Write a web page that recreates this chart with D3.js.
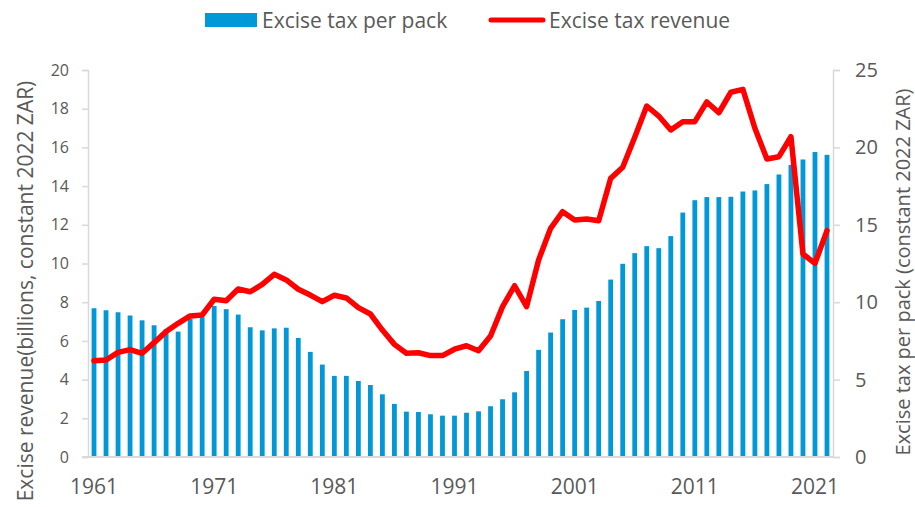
<!DOCTYPE html>
<html>
<head>
<meta charset="utf-8">
<script src="https://cdn.jsdelivr.net/npm/d3@7"></script>
<style>
  body { margin: 0; background: #fff; }
  svg { display: block; font-family: "Open Sans", sans-serif; }
  .tick text { fill: #595959; }
</style>
</head>
<body>
<div id="chart"></div>
<script>
// Years on the x axis
var years = d3.range(1961, 2023);

// Excise tax per pack (constant 2022 ZAR), right axis
var perPack = [
    9.61, 9.48, 9.35, 9.14, 8.83, 8.51, 8.25, 8.10, 8.94, 9.03,
    9.76, 9.55, 9.20, 8.38, 8.18, 8.31, 8.35, 7.69, 6.79, 5.97,
    5.24, 5.24, 4.91, 4.65, 4.05, 3.43, 2.93, 2.91, 2.76, 2.67,
    2.67, 2.86, 2.95, 3.28, 3.73, 4.18, 5.56, 6.92, 8.04, 8.90,
    9.50, 9.65, 10.08, 11.46, 12.48, 13.17, 13.62, 13.49, 14.27, 15.79,
    16.59, 16.79, 16.79, 16.81, 17.15, 17.22, 17.63, 18.25, 18.87, 19.22,
    19.70, 19.52
];

// Excise tax revenue (billions, constant 2022 ZAR), left axis
var revenue = [
    4.98, 5.01, 5.41, 5.55, 5.36, 5.91, 6.48, 6.91, 7.29, 7.34,
    8.15, 8.08, 8.68, 8.54, 8.92, 9.44, 9.15, 8.67, 8.37, 8.03,
    8.36, 8.22, 7.72, 7.39, 6.56, 5.82, 5.36, 5.39, 5.24, 5.24,
    5.57, 5.75, 5.49, 6.25, 7.77, 8.85, 7.77, 10.18, 11.82, 12.68,
    12.25, 12.30, 12.21, 14.40, 14.97, 16.52, 18.14, 17.62, 16.90, 17.33,
    17.33, 18.35, 17.79, 18.85, 19.00, 16.99, 15.40, 15.52, 16.55, 10.49,
    10.01, 11.70
];

var leftTicks = [0, 2, 4, 6, 8, 10, 12, 14, 16, 18, 20];
var rightTicks = [0, 5, 10, 15, 20, 25];
var xLabels = [1961, 1971, 1981, 1991, 2001, 2011, 2021];

var svgWidth = 915;
var svgHeight = 507;

var margin = { top: 70, bottom: 50, left: 88, right: 82 };
var chartWidth = svgWidth - margin.left - margin.right;
var chartHeight = svgHeight - margin.top - margin.bottom;

var svg = d3.select('#chart')
    .append('svg')
    .attr('width', svgWidth)
    .attr('height', svgHeight);

var chartGroup = svg.append('g')
    .attr('transform', `translate(${margin.left}, ${margin.top})`);

// Scales
var xScale = d3.scaleBand()
    .domain(years)
    .range([0, chartWidth])
    .paddingInner(0.6)
    .paddingOuter(0.3);

var yLeft = d3.scaleLinear()
    .domain([0, 20])
    .range([chartHeight, 0]);

var yRight = d3.scaleLinear()
    .domain([0, 25])
    .range([chartHeight, 0]);

// Bars
chartGroup.selectAll('rect.bar')
    .data(perPack)
    .enter()
    .append('rect')
    .attr('class', 'bar')
    .attr('x', (d, i) => xScale(years[i]))
    .attr('y', d => yRight(d))
    .attr('width', xScale.bandwidth())
    .attr('height', d => chartHeight - yRight(d))
    .attr('fill', '#0098d6');

// Axes
var leftAxis = d3.axisLeft(yLeft)
    .tickValues(leftTicks)
    .tickSize(6)
    .tickPadding(13);

var rightAxis = d3.axisRight(yRight)
    .tickValues(rightTicks)
    .tickSize(7)
    .tickPadding(15);

var bottomAxis = d3.axisBottom(xScale)
    .tickValues(xLabels)
    .tickSize(0)
    .tickPadding(22);

var gLeft = chartGroup.append('g').call(leftAxis);
gLeft.selectAll('text').style('font-size', '16px');

var gRight = chartGroup.append('g')
    .attr('transform', `translate(${chartWidth}, 0)`)
    .call(rightAxis);
gRight.selectAll('text').style('font-size', '20px');

var gBottom = chartGroup.append('g')
    .attr('transform', `translate(0, ${chartHeight})`)
    .call(bottomAxis);
gBottom.selectAll('text').style('font-size', '21px');
gBottom.select('.domain').remove();

[gLeft, gRight, gBottom].forEach(function (g) {
    g.attr('font-family', '"Open Sans", sans-serif');
    g.select('.domain').attr('stroke', '#d9d9d9').attr('stroke-width', 1.5);
    g.selectAll('.tick line').attr('stroke', '#d9d9d9').attr('stroke-width', 1.5);
});

// Baseline
chartGroup.append('line')
    .attr('x1', -6)
    .attr('x2', chartWidth)
    .attr('y1', chartHeight)
    .attr('y2', chartHeight)
    .attr('stroke', '#d9d9d9')
    .attr('stroke-width', 2);

// Revenue line
var line = d3.line()
    .x((d, i) => xScale(years[i]) + xScale.bandwidth() / 2)
    .y(d => yLeft(d));

chartGroup.append('path')
    .datum(revenue)
    .attr('d', line)
    .attr('fill', 'none')
    .attr('stroke', '#ff0000')
    .attr('stroke-width', 5.5)
    .attr('stroke-linejoin', 'round')
    .attr('stroke-linecap', 'round');

// Axis titles
svg.append('text')
    .attr('transform', 'translate(33, 291) rotate(-90)')
    .attr('text-anchor', 'middle')
    .attr('fill', '#595959')
    .style('font-size', '21px')
    .text('Excise revenue(billions, constant 2022 ZAR)');

svg.append('text')
    .attr('transform', 'translate(910, 272) rotate(-90)')
    .attr('text-anchor', 'middle')
    .attr('fill', '#595959')
    .style('font-size', '20px')
    .text('Excise tax per pack (constant 2022 ZAR)');

// Legend
var legend = svg.append('g');

legend.append('rect')
    .attr('x', 205)
    .attr('y', 13)
    .attr('width', 52)
    .attr('height', 14)
    .attr('fill', '#0098d6');

legend.append('text')
    .attr('x', 262)
    .attr('y', 28)
    .attr('fill', '#595959')
    .style('font-size', '21px')
    .text('Excise tax per pack');

legend.append('line')
    .attr('x1', 491)
    .attr('x2', 543)
    .attr('y1', 20)
    .attr('y2', 20)
    .attr('stroke', '#ff0000')
    .attr('stroke-width', 5)
    .attr('stroke-linecap', 'round');

legend.append('text')
    .attr('x', 549)
    .attr('y', 28)
    .attr('fill', '#595959')
    .style('font-size', '21px')
    .text('Excise tax revenue');
</script>
</body>
</html>
